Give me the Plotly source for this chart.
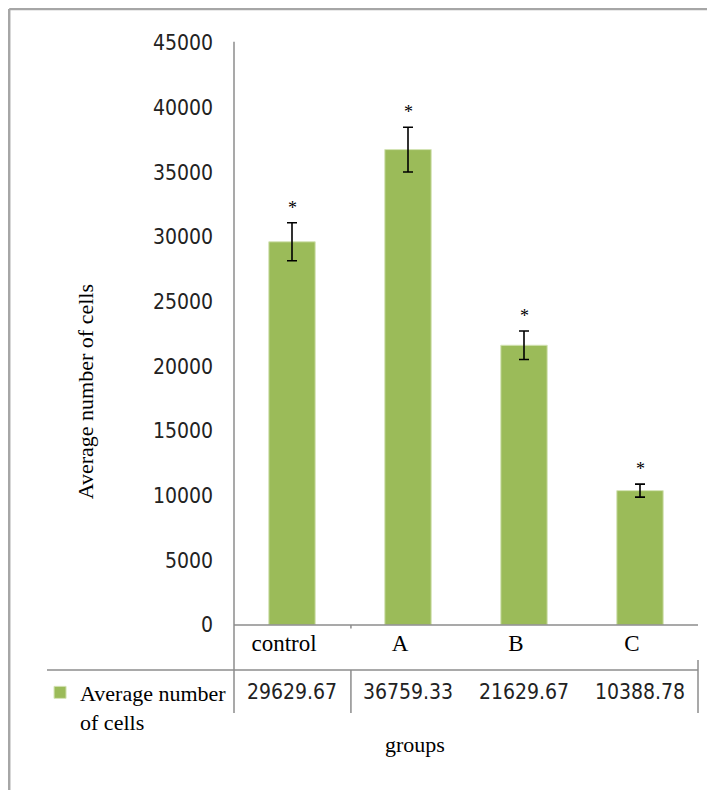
import plotly.graph_objects as go

categories = ["control", "A", "B", "C"]
values = [29629.67, 36759.33, 21629.67, 10388.78]
errors = [1470, 1730, 1100, 500]
value_labels = ["29629.67", "36759.33", "21629.67", "10388.78"]
marks = ["*", "*", "*", "*"]
y_ticks = [0, 5000, 10000, 15000, 20000, 25000, 30000, 35000, 40000, 45000]
y_tick_labels = ["0", "5000", "10000", "15000", "20000", "25000", "30000", "35000", "40000", "45000"]
series_name = "Average number<br>of cells"

GREEN = "#9BBB59"
SERIF = "Liberation Serif, Times New Roman, serif"
NARROW = "DejaVu Sans Condensed, Liberation Sans Narrow, Arial Narrow, sans-serif"
GRID = "#8c8c8c"

fig = go.Figure()
fig.add_trace(go.Bar(
    x=categories, y=values, name=series_name, width=0.4,
    marker=dict(color=GREEN, line=dict(color="#d4e3b5", width=1)),
    error_y=dict(type="data", array=errors, visible=True, color="black",
                 thickness=1.6, width=5),
    showlegend=True,
))

# significance marks
for c, v, e, m in zip(categories, values, errors, marks):
    fig.add_annotation(x=c, y=v + e, text=m, showarrow=False, yanchor="bottom",
                       yshift=3, font=dict(family=SERIF, size=18, color="black"))

# data table values
for c, t in zip(categories, value_labels):
    fig.add_annotation(x=c, y=-0.115, yref="paper", text=t, showarrow=False,
                       yanchor="middle",
                       font=dict(family=NARROW, size=21, color="#222"))

# titles
fig.add_annotation(x=-0.321, y=0.40, xref="paper", yref="paper",
                   text="Average number of cells", textangle=-90, showarrow=False,
                   xanchor="center", yanchor="middle",
                   font=dict(family=SERIF, size=22, color="black"))
fig.add_annotation(x=0.39, y=-0.206, xref="paper", yref="paper", text="groups",
                   showarrow=False, xanchor="center", yanchor="middle",
                   font=dict(family=SERIF, size=22, color="black"))

def line(x0, y0, x1, y1, color=GRID, width=1.5):
    fig.add_shape(type="line", xref="paper", yref="paper", x0=x0, y0=y0, x1=x1, y1=y1,
                  line=dict(color=color, width=width))

# axis & table lines
line(0, 1.002, 0, -0.151)            # y axis through table
line(0, 0, 1, 0)                     # category axis
line(-0.403, -0.0773, 1, -0.0773)    # table row line
line(0.252, -0.0773, 0.252, -0.151)  # divider control|A
line(0.252, 0, 0.252, -0.006)
line(1, -0.060, 1, -0.151)           # right end
# outer frame
line(-0.4845, 1.0585, -0.4845, -0.35, color="#a6a6a6", width=2.5)
line(-0.4845, 1.0585, 1.1, 1.0585, color="#a6a6a6", width=2.5)

fig.update_layout(
    width=707, height=782,
    margin=dict(l=226, r=17, t=35, b=165),
    paper_bgcolor="white", plot_bgcolor="white",
    bargap=0.6,
    showlegend=True,
    legend=dict(x=-0.418, y=-0.080, xanchor="left", yanchor="top",
                font=dict(family=SERIF, size=22, color="black"),
                valign="top", itemwidth=30, bgcolor="rgba(0,0,0,0)"),
    xaxis=dict(showline=False, showgrid=False, ticks="", zeroline=False,
               tickfont=dict(family=SERIF, size=23, color="black"),
               ticklabelshift=-8, ticklabelstandoff=2),
    yaxis=dict(range=[0, 45000], tickvals=y_ticks, ticktext=y_tick_labels,
               showgrid=False, zeroline=False, showline=False, ticks="",
               tickfont=dict(family=NARROW, size=21, color="#222"),
               ticklabelstandoff=20),
)

fig.write_html("out.html")
